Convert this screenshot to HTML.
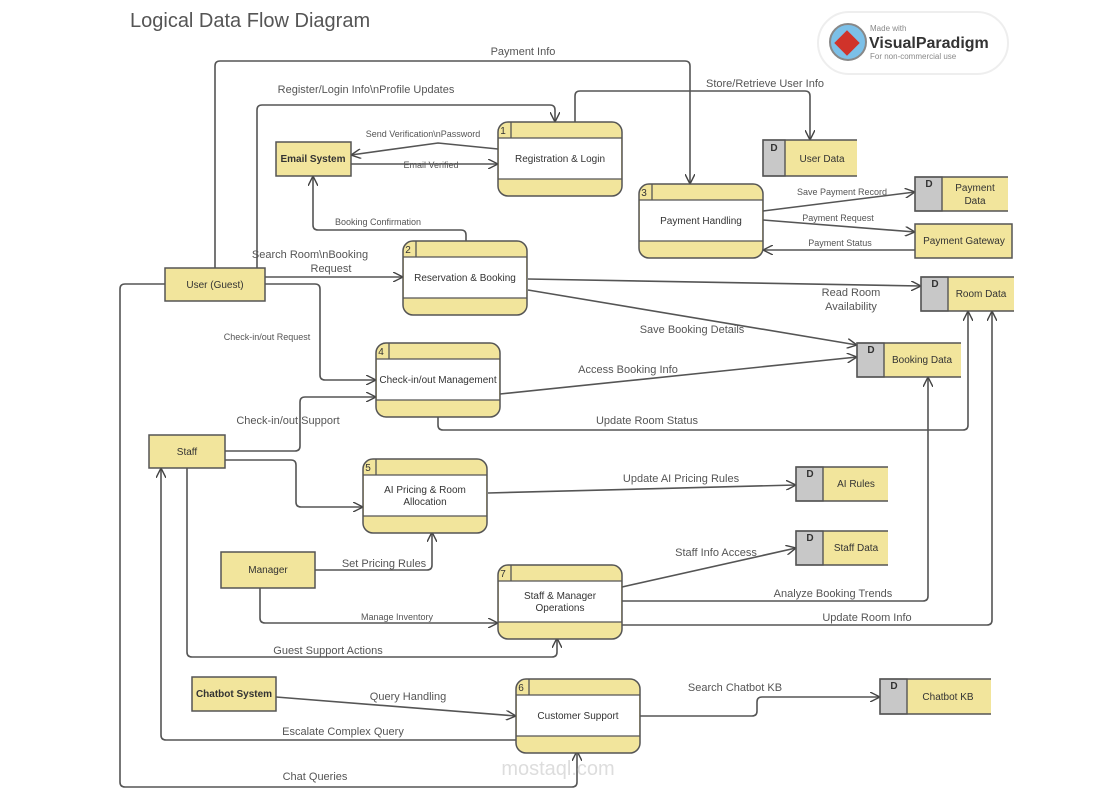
<!DOCTYPE html>
<html><head><meta charset="utf-8"><style>
html,body{margin:0;padding:0;background:#fff;}
svg{display:block;font-family:"Liberation Sans",sans-serif;}
.l{fill:none;stroke:#555;stroke-width:1.6;}
.t{fill:#555;font-size:11px;text-anchor:middle;}
.s{fill:#555;font-size:9px;text-anchor:middle;}
.n{fill:#333;font-size:10px;text-anchor:middle;}
.b{fill:#333;font-size:10px;text-anchor:middle;font-weight:bold;}
</style></head><body>
<svg width="1116" height="796" viewBox="0 0 1116 796">
<defs>
<marker id="a" viewBox="0 0 10 10" refX="10" refY="5" markerWidth="10" markerHeight="10" markerUnits="userSpaceOnUse" orient="auto">
<path d="M0,0 L10,5 L0,10" fill="none" stroke="#444" stroke-width="1.4"/></marker>
<g id="proc">
<rect x="0" y="0" width="124" height="74" rx="10" fill="#f2e59c" stroke="#555" stroke-width="1.5"/>
<rect x="1" y="16" width="122" height="41" fill="#fff"/>
<line x1="0" y1="16" x2="124" y2="16" stroke="#555" stroke-width="1.3"/>
<line x1="0" y1="57" x2="124" y2="57" stroke="#555" stroke-width="1.3"/>
<line x1="13" y1="0" x2="13" y2="16" stroke="#555" stroke-width="1.3"/>
</g>
</defs>
<text x="130" y="27" fill="#555" font-size="20">Logical Data Flow Diagram</text>

<!-- VP badge -->
<rect x="818" y="12" width="190" height="62" rx="31" fill="#fff" stroke="#eee" stroke-width="2"/>
<circle cx="848" cy="42" r="18" fill="#7cc0e8" stroke="#888" stroke-width="2"/>
<rect x="838" y="34" width="18" height="18" fill="#d0332a" transform="rotate(45 847 43)"/>
<text x="870" y="31" fill="#888" font-size="8">Made with</text>
<text x="869" y="48" fill="#333" font-size="16" font-weight="bold">VisualParadigm</text>
<text x="870" y="59" fill="#888" font-size="8">For non-commercial use</text>

<!-- connectors -->
<path class="l" d="M215,268 V66 Q215,61 220,61 H685 Q690,61 690,66 V184" marker-end="url(#a)"/>
<text class="t" x="523" y="55">Payment Info</text>
<path class="l" d="M257,268 V110 Q257,105 262,105 H550 Q555,105 555,110 V122" marker-end="url(#a)"/>
<text class="t" x="366" y="93">Register/Login Info\nProfile Updates</text>
<path class="l" d="M575,122 V96 Q575,91 580,91 H805 Q810,91 810,96 V140" marker-end="url(#a)"/>
<text class="t" x="765" y="87">Store/Retrieve User Info</text>
<path class="l" d="M498,149 L438,143 L351,155" marker-end="url(#a)"/>
<text class="s" x="423" y="137">Send Verification\nPassword</text>
<path class="l" d="M351,164 H498" marker-end="url(#a)"/>
<text class="s" x="431" y="168">Email Verified</text>
<path class="l" d="M466,241 V235 Q466,230 461,230 H318 Q313,230 313,225 V176" marker-end="url(#a)"/>
<text class="s" x="378" y="225">Booking Confirmation</text>
<path class="l" d="M265,277 H403" marker-end="url(#a)"/>
<text class="t" x="310" y="258">Search Room\nBooking</text>
<text class="t" x="331" y="272">Request</text>
<path class="l" d="M265,284 H315 Q320,284 320,289 V375 Q320,380 325,380 H376" marker-end="url(#a)"/>
<text class="s" x="267" y="340">Check-in/out Request</text>
<path class="l" d="M165,284 H125 Q120,284 120,289 V782 Q120,787 125,787 H572 Q577,787 577,782 V751" marker-end="url(#a)"/>
<text class="t" x="315" y="780">Chat Queries</text>
<path class="l" d="M528,279 L921,286" marker-end="url(#a)"/>
<text class="t" x="851" y="296">Read Room</text>
<text class="t" x="851" y="310">Availability</text>
<path class="l" d="M528,290 L857,345" marker-end="url(#a)"/>
<text class="t" x="692" y="333">Save Booking Details</text>
<path class="l" d="M500,394 L857,357" marker-end="url(#a)"/>
<text class="t" x="628" y="373">Access Booking Info</text>
<path class="l" d="M438,416 V425 Q438,430 443,430 H963 Q968,430 968,425 V311" marker-end="url(#a)"/>
<text class="t" x="647" y="424">Update Room Status</text>
<path class="l" d="M225,451 H295 Q300,451 300,446 V402 Q300,397 305,397 H376" marker-end="url(#a)"/>
<text class="t" x="288" y="424">Check-in/out Support</text>
<path class="l" d="M225,460 H291 Q296,460 296,465 V502 Q296,507 301,507 H363" marker-end="url(#a)"/>
<path class="l" d="M488,493 L796,485" marker-end="url(#a)"/>
<text class="t" x="681" y="482">Update AI Pricing Rules</text>
<path class="l" d="M315,570 H427 Q432,570 432,565 V532" marker-end="url(#a)"/>
<text class="t" x="384" y="567">Set Pricing Rules</text>
<path class="l" d="M260,588 V618 Q260,623 265,623 H498" marker-end="url(#a)"/>
<text class="s" x="397" y="620">Manage Inventory</text>
<path class="l" d="M187,468 V652 Q187,657 192,657 H552 Q557,657 557,652 V638" marker-end="url(#a)"/>
<text class="t" x="328" y="654">Guest Support Actions</text>
<path class="l" d="M516,740 H166 Q161,740 161,735 V468" marker-end="url(#a)"/>
<text class="t" x="343" y="735">Escalate Complex Query</text>
<path class="l" d="M276,697 L516,716" marker-end="url(#a)"/>
<text class="t" x="408" y="700">Query Handling</text>
<path class="l" d="M622,587 L796,548" marker-end="url(#a)"/>
<text class="t" x="716" y="556">Staff Info Access</text>
<path class="l" d="M622,601 H923 Q928,601 928,596 V377" marker-end="url(#a)"/>
<text class="t" x="833" y="597">Analyze Booking Trends</text>
<path class="l" d="M622,625 H987 Q992,625 992,620 V311" marker-end="url(#a)"/>
<text class="t" x="867" y="621">Update Room Info</text>
<path class="l" d="M639,716 H752 Q757,716 757,711 V702 Q757,697 762,697 H880" marker-end="url(#a)"/>
<text class="t" x="735" y="691">Search Chatbot KB</text>
<path class="l" d="M763,211 L915,192" marker-end="url(#a)"/>
<text class="s" x="842" y="195">Save Payment Record</text>
<path class="l" d="M763,220 L915,232" marker-end="url(#a)"/>
<text class="s" x="838" y="221">Payment Request</text>
<path class="l" d="M915,250 H763" marker-end="url(#a)"/>
<text class="s" x="840" y="246">Payment Status</text>

<!-- processes -->
<use href="#proc" x="498" y="122"/><text class="n" x="503" y="134" text-anchor="start">1</text><text class="n" x="560" y="162">Registration &amp; Login</text>
<use href="#proc" x="403" y="241"/><text class="n" x="408" y="253" text-anchor="start">2</text><text class="n" x="465" y="281">Reservation &amp; Booking</text>
<use href="#proc" x="639" y="184"/><text class="n" x="644" y="196" text-anchor="start">3</text><text class="n" x="701" y="224">Payment Handling</text>
<use href="#proc" x="376" y="343"/><text class="n" x="381" y="355" text-anchor="start">4</text><text class="n" x="438" y="383">Check-in/out Management</text>
<use href="#proc" x="363" y="459"/><text class="n" x="368" y="471" text-anchor="start">5</text><text class="n" x="425" y="493">AI Pricing &amp; Room</text><text class="n" x="425" y="505">Allocation</text>
<use href="#proc" x="498" y="565"/><text class="n" x="503" y="577" text-anchor="start">7</text><text class="n" x="560" y="599">Staff &amp; Manager</text><text class="n" x="560" y="611">Operations</text>
<use href="#proc" x="516" y="679"/><text class="n" x="521" y="691" text-anchor="start">6</text><text class="n" x="578" y="719">Customer Support</text>

<!-- externals -->
<g fill="#f2e59c" stroke="#555" stroke-width="1.5">
<rect x="276" y="142" width="75" height="34"/>
<rect x="165" y="268" width="100" height="33"/>
<rect x="149" y="435" width="76" height="33"/>
<rect x="221" y="552" width="94" height="36"/>
<rect x="192" y="677" width="84" height="34"/>
<rect x="915" y="224" width="97" height="34"/>
</g>
<text class="b" x="313" y="162">Email System</text>
<text class="n" x="215" y="288">User (Guest)</text>
<text class="n" x="187" y="455">Staff</text>
<text class="n" x="268" y="573">Manager</text>
<text class="b" x="234" y="697">Chatbot System</text>
<text class="n" x="964" y="244">Payment Gateway</text>

<!-- data stores -->
<g id="ds">
</g>
<g stroke="#555" stroke-width="1.4">
<rect x="763" y="140" width="94" height="36" fill="#f2e59c" stroke="none"/><rect x="763" y="140" width="22" height="36" fill="#c8c8c8"/><path d="M857,140 H763 V176 H857" fill="none"/>
<rect x="915" y="177" width="93" height="34" fill="#f2e59c" stroke="none"/><rect x="915" y="177" width="27" height="34" fill="#c8c8c8"/><path d="M1008,177 H915 V211 H1008" fill="none"/>
<rect x="921" y="277" width="93" height="34" fill="#f2e59c" stroke="none"/><rect x="921" y="277" width="27" height="34" fill="#c8c8c8"/><path d="M1014,277 H921 V311 H1014" fill="none"/>
<rect x="857" y="343" width="104" height="34" fill="#f2e59c" stroke="none"/><rect x="857" y="343" width="27" height="34" fill="#c8c8c8"/><path d="M961,343 H857 V377 H961" fill="none"/>
<rect x="796" y="467" width="92" height="34" fill="#f2e59c" stroke="none"/><rect x="796" y="467" width="27" height="34" fill="#c8c8c8"/><path d="M888,467 H796 V501 H888" fill="none"/>
<rect x="796" y="531" width="92" height="34" fill="#f2e59c" stroke="none"/><rect x="796" y="531" width="27" height="34" fill="#c8c8c8"/><path d="M888,531 H796 V565 H888" fill="none"/>
<rect x="880" y="679" width="111" height="35" fill="#f2e59c" stroke="none"/><rect x="880" y="679" width="27" height="35" fill="#c8c8c8"/><path d="M991,679 H880 V714 H991" fill="none"/>
</g>
<g class="b" font-size="9">
<text class="b" x="774" y="151">D</text><text class="b" x="929" y="187">D</text><text class="b" x="935" y="287">D</text>
<text class="b" x="871" y="353">D</text><text class="b" x="810" y="477">D</text><text class="b" x="810" y="541">D</text><text class="b" x="894" y="689">D</text>
</g>
<text class="n" x="822" y="162">User Data</text>
<text class="n" x="975" y="191">Payment</text><text class="n" x="975" y="204">Data</text>
<text class="n" x="981" y="297">Room Data</text>
<text class="n" x="922" y="363">Booking Data</text>
<text class="n" x="856" y="487">AI Rules</text>
<text class="n" x="856" y="551">Staff Data</text>
<text class="n" x="948" y="700">Chatbot KB</text>

<text x="558" y="775" fill="#ddd" font-size="20" text-anchor="middle">mostaql.com</text>
</svg>
</body></html>
